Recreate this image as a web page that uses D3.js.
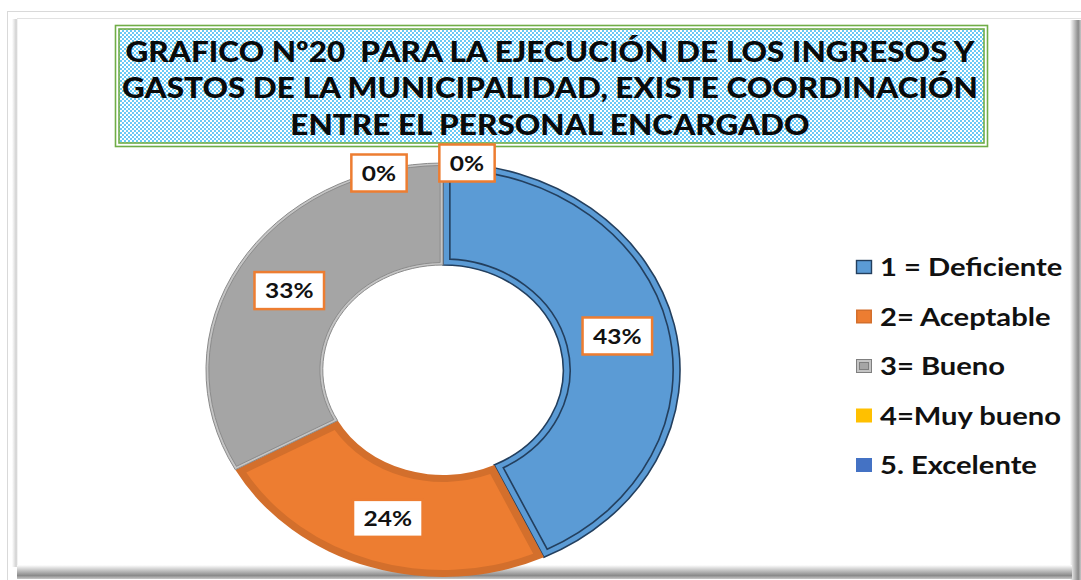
<!DOCTYPE html>
<html><head><meta charset="utf-8">
<script src="https://cdn.jsdelivr.net/npm/d3@7"></script>
<style>body{margin:0;background:#fff;} svg{display:block}</style>
</head><body><svg id="c" width="1081" height="580"></svg>
<script>
const titleLines = ["GRAFICO Nº20  PARA LA EJECUCIÓN DE LOS INGRESOS Y", "GASTOS DE LA MUNICIPALIDAD, EXISTE COORDINACIÓN", "ENTRE EL PERSONAL ENCARGADO"];
const categories = ["1 = Deficiente", "2= Aceptable", "3= Bueno", "4=Muy bueno", "5. Excelente"];
const values = [43, 24, 33, 0, 0];
const valueLabels = ["43%", "24%", "33%", "0%", "0%"];
const colors = ["#5B9BD5", "#ED7D31", "#A5A5A5", "#FFC000", "#4472C4"];

const svg = d3.select("#c");
const W = 1081, H = 580;
const defs = svg.append("defs");

// gradients for the frame shadow
const gR = defs.append("linearGradient").attr("id","shR").attr("x1","0").attr("x2","1").attr("y1","0").attr("y2","0");
gR.append("stop").attr("offset","0").attr("stop-color","#ffffff");
gR.append("stop").attr("offset","0.75").attr("stop-color","#8a8a8a");
gR.append("stop").attr("offset","1").attr("stop-color","#c8c8c8");
const gB = defs.append("linearGradient").attr("id","shB").attr("x1","0").attr("x2","0").attr("y1","0").attr("y2","1");
gB.append("stop").attr("offset","0").attr("stop-color","#ffffff");
gB.append("stop").attr("offset","0.75").attr("stop-color","#8a8a8a");
gB.append("stop").attr("offset","1").attr("stop-color","#c8c8c8");
const gL = defs.append("linearGradient").attr("id","shL").attr("x1","0").attr("x2","1").attr("y1","0").attr("y2","0");
gL.append("stop").attr("offset","0").attr("stop-color","#ffffff");
gL.append("stop").attr("offset","0.7").attr("stop-color","#d0d0d0");
gL.append("stop").attr("offset","1").attr("stop-color","#ffffff");

// dotted pattern for the title box
const pat = defs.append("pattern").attr("id","dots").attr("patternUnits","userSpaceOnUse")
  .attr("width",4).attr("height",4);
pat.append("rect").attr("width",4).attr("height",4).attr("fill","#ffffff");
pat.append("circle").attr("cx",1).attr("cy",1).attr("r",0.95).attr("fill","#2AB3F2");
pat.append("circle").attr("cx",3).attr("cy",3).attr("r",0.95).attr("fill","#2AB3F2");

// frame
svg.append("rect").attr("width",W).attr("height",H).attr("fill","#fff");
svg.append("rect").attr("x",7.5).attr("y",11.5).attr("width",1200).attr("height",1000)
  .attr("fill","none").attr("stroke","#d9d9d9");
svg.append("line").attr("x1",17).attr("x2",W).attr("y1",18.5).attr("y2",18.5).attr("stroke","#e2e2e2");
svg.append("rect").attr("x",12).attr("y",19).attr("width",6).attr("height",548).attr("fill","url(#shL)");
svg.append("rect").attr("x",1070).attr("y",20).attr("width",11).attr("height",560).attr("fill","url(#shR)");
svg.append("rect").attr("x",17).attr("y",565).attr("width",1055).attr("height",14).attr("fill","url(#shB)");

// title box
svg.append("rect").attr("x",115.5).attr("y",25.5).attr("width",872).attr("height",121)
  .attr("fill","none").attr("stroke","#70AD47").attr("stroke-width",1.6);
svg.append("rect").attr("x",119).attr("y",29).attr("width",865).attr("height",114)
  .attr("fill","url(#dots)").attr("stroke","#70AD47").attr("stroke-width",1.6);

function stretch(sel, k){
  sel.each(function(){
    const w = this.getComputedTextLength();
    d3.select(this).attr("textLength", w*k).attr("lengthAdjust","spacingAndGlyphs");
  });
}

const titleG = svg.append("g");
const tt = titleG.selectAll("text").data(titleLines).join("text")
  .attr("x",550).attr("y",(d,i)=>61.5 + i*36.5)
  .attr("text-anchor","middle")
  .attr("font-family","Lato, 'Open Sans', sans-serif").attr("font-weight","900")
  .attr("font-size",29).attr("fill","#0a0a0a")
  .style("white-space","pre")
  .text(d=>d);
const titleK = 849 / tt.node().getComputedTextLength();
tt.call(stretch, titleK);

// donut
const cx = 443, cy = 370, R = 207, r = 105, sx = 1.145;
const pieData = d3.pie().sort(null).value(d=>d)(values);
const g = svg.append("g").attr("transform",`translate(${cx},${cy}) scale(${sx},1)`);
const arc = d3.arc().innerRadius(r).outerRadius(R);
function insetArc(d, k){
  return d3.arc().innerRadius(r+k).outerRadius(R-k).padRadius(100).padAngle(2*k/100)(d);
}
pieData.forEach((d,i)=>{
  if (d.value <= 0) return;
  if (i === 0){
    g.append("path").attr("d",arc(d)).attr("fill",colors[0])
      .attr("stroke","#233f5e").attr("stroke-width",1.6).attr("vector-effect","non-scaling-stroke");
    g.append("path").attr("d",insetArc(d,6)).attr("fill","none")
      .attr("stroke","#233f5e").attr("stroke-width",1.6).attr("vector-effect","non-scaling-stroke");
  } else if (i === 1){
    g.append("path").attr("d",arc(d)).attr("fill","#D36F2C");
    g.append("path").attr("d",insetArc(d,7)).attr("fill",colors[1]);
  } else if (i === 2){
    g.append("path").attr("d",arc(d)).attr("fill","#c4c4c4")
      .attr("stroke","#8a8a8a").attr("stroke-width",1).attr("vector-effect","non-scaling-stroke");
    g.append("path").attr("d",insetArc(d,2.5)).attr("fill",colors[2])
      .attr("stroke","#8c8c8c").attr("stroke-width",1).attr("vector-effect","non-scaling-stroke");
  } else {
    g.append("path").attr("d",arc(d)).attr("fill",colors[i]);
  }
});

// data labels
const labelArc = d3.arc().innerRadius(r).outerRadius(R);
let zeroCount = 0;
const zeroOffsets = [[-64, 10], [24, 0]];
pieData.forEach((d,i)=>{
  let x, y;
  if (d.value > 0){
    const c = labelArc.centroid(d);
    x = cx + c[0]*sx; y = cy + c[1];
  } else {
    const a = d.startAngle;
    const off = zeroOffsets[zeroCount++ % 2];
    x = cx + Math.sin(a)*R*sx + off[0];
    y = cy - Math.cos(a)*R + off[1];
  }
  const lg = svg.append("g").attr("transform",`translate(${x},${y})`);
  const rect = lg.append("rect");
  const t = lg.append("text").attr("text-anchor","middle").attr("y",7.8)
    .attr("font-family","Lato, 'Open Sans', sans-serif").attr("font-weight","bold")
    .attr("font-size",21.5).attr("fill","#111").text(valueLabels[i]);
  stretch(t, 1.14);
  const w = +t.attr("textLength") + 21, h = 37;
  rect.attr("x",-w/2).attr("y",-h/2).attr("width",w).attr("height",h)
    .attr("fill","#fff").attr("stroke","#ED7D31").attr("stroke-width",2.5);
});

// legend
const lgd = svg.append("g");
categories.forEach((c,i)=>{
  const yc = 267 + i*49.5;
  const row = lgd.append("g");
  const sw = 16, sh = 14, x0 = 856;
  if (i === 0){
    row.append("rect").attr("x",x0+0.5).attr("y",yc-sh/2+0.5).attr("width",sw-1).attr("height",sh-1)
      .attr("fill",colors[0]).attr("stroke","#233f5e").attr("stroke-width",1.4);
  } else if (i === 1){
    row.append("rect").attr("x",x0).attr("y",yc-sh/2).attr("width",sw).attr("height",sh).attr("fill","#D36F2C");
    row.append("rect").attr("x",x0+1.5).attr("y",yc-sh/2+1.5).attr("width",sw-3).attr("height",sh-3).attr("fill",colors[1]);
  } else if (i === 2){
    row.append("rect").attr("x",x0+0.5).attr("y",yc-sh/2+0.5).attr("width",sw-1).attr("height",sh-1)
      .attr("fill","#c4c4c4").attr("stroke","#7f7f7f");
    row.append("rect").attr("x",x0+3.5).attr("y",yc-sh/2+3.5).attr("width",sw-7).attr("height",sh-7)
      .attr("fill",colors[2]).attr("stroke","#7f7f7f");
  } else {
    row.append("rect").attr("x",x0).attr("y",yc-sh/2).attr("width",sw).attr("height",sh).attr("fill",colors[i]);
  }
  const t = row.append("text").attr("x",880).attr("y",yc+9)
    .attr("font-family","Lato, 'Open Sans', sans-serif").attr("font-weight","bold")
    .attr("font-size",24.5).attr("fill","#111").text(c);
  stretch(t, 1.19);
});
</script></body></html>
